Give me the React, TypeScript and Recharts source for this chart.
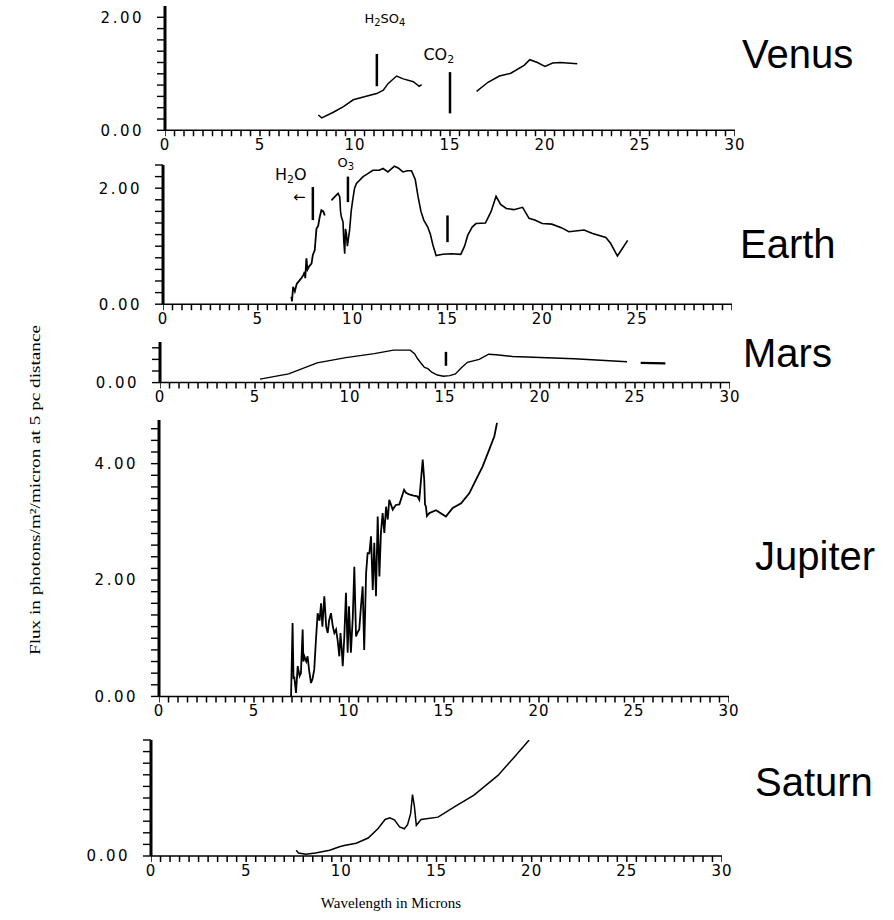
import React from 'react';
import { LineChart, Line, XAxis, YAxis, ReferenceLine, ReferenceDot } from 'recharts';

// ---------- data (wavelength in microns, flux) ----------
const venusX1 = [8.07, 8.25, 8.86, 9.39, 9.91, 10.44, 11.14, 11.49, 11.75, 12.19, 12.54, 13.07, 13.38, 13.51];
const venusY1 = [0.27, 0.22, 0.32, 0.42, 0.54, 0.59, 0.65, 0.71, 0.83, 0.96, 0.91, 0.86, 0.78, 0.81];
const venusX2 = [16.4, 17.0, 17.6, 18.2, 18.9, 19.2, 19.6, 20.0, 20.4, 20.8, 21.7];
const venusY2 = [0.69, 0.85, 0.96, 1.01, 1.15, 1.25, 1.2, 1.13, 1.19, 1.2, 1.18];

const earthX1 = [6.77, 6.8, 6.86, 6.95, 7.05, 7.2, 7.3, 7.4, 7.47, 7.5, 7.56, 7.62, 7.7, 7.83, 7.9, 8.0, 8.09, 8.18, 8.26, 8.35, 8.45, 8.53];
const earthY1 = [0.13, 0.05, 0.3, 0.22, 0.35, 0.41, 0.45, 0.5, 0.56, 0.45, 0.79, 0.6, 0.65, 0.7, 0.85, 0.93, 1.3, 1.35, 1.5, 1.62, 1.6, 1.53];
const earthX2 = [8.88, 9.05, 9.23, 9.32, 9.36, 9.4, 9.49, 9.53, 9.58, 9.62, 9.67, 9.72, 9.75, 9.84, 9.92, 10.0, 10.1, 10.2, 10.55, 10.8, 11.07, 11.4, 11.6, 11.86, 12.2, 12.4, 12.65, 12.9, 13.1, 13.3, 13.45, 13.6, 13.75, 13.96, 14.1, 14.23, 14.4, 14.75, 15.2, 15.7, 15.9, 16.07, 16.3, 16.5, 17.0, 17.3, 17.56, 17.8, 18.1, 18.5, 18.96, 19.3, 19.6, 20.0, 20.5, 21.0, 21.4, 22.2, 22.65, 23.35, 23.6, 23.96, 24.5];
const earthY2 = [1.79, 1.85, 1.91, 1.85, 1.6, 1.51, 1.42, 1.1, 0.87, 1.3, 1.22, 1.0, 1.07, 1.28, 1.6, 1.79, 2.0, 2.08, 2.2, 2.25, 2.31, 2.31, 2.34, 2.28, 2.38, 2.35, 2.28, 2.3, 2.3, 2.15, 1.85, 1.6, 1.45, 1.33, 1.2, 1.02, 0.84, 0.86, 0.87, 0.86, 1.0, 1.19, 1.33, 1.39, 1.4, 1.6, 1.86, 1.72, 1.65, 1.63, 1.67, 1.48, 1.45, 1.39, 1.38, 1.32, 1.25, 1.28, 1.22, 1.15, 1.05, 0.83, 1.1];

const marsX1 = [5.26, 6.77, 8.27, 9.78, 11.28, 12.29, 13.17, 13.4, 13.54, 13.75, 13.92, 14.1, 14.3, 14.6, 14.92, 15.25, 15.55, 15.85, 16.18, 16.8, 17.3, 17.7, 18.56, 21.8, 24.58];
const marsY1 = [0.06, 0.15, 0.34, 0.43, 0.5, 0.56, 0.56, 0.5, 0.42, 0.33, 0.26, 0.24, 0.18, 0.13, 0.11, 0.12, 0.15, 0.25, 0.35, 0.4, 0.49, 0.48, 0.45, 0.41, 0.36];
const marsX2 = [25.3, 26.6];
const marsY2 = [0.34, 0.33];

const jupiterX = [6.95, 7.03, 7.08, 7.12, 7.21, 7.3, 7.4, 7.47, 7.56, 7.6, 7.65, 7.75, 7.82, 7.9, 8.0, 8.08, 8.17, 8.26, 8.35, 8.45, 8.53, 8.6, 8.7, 8.8, 8.88, 8.95, 9.05, 9.15, 9.23, 9.32, 9.4, 9.49, 9.55, 9.62, 9.67, 9.75, 9.84, 9.93, 10.0, 10.1, 10.2, 10.28, 10.37, 10.45, 10.54, 10.63, 10.72, 10.8, 10.9, 10.98, 11.07, 11.16, 11.25, 11.33, 11.42, 11.51, 11.6, 11.68, 11.77, 11.86, 11.95, 12.04, 12.12, 12.3, 12.4, 12.47, 12.65, 12.9, 13.0, 13.17, 13.4, 13.6, 13.7, 13.79, 13.88, 13.96, 14.0, 14.05, 14.1, 14.23, 14.58, 15.1, 15.46, 15.9, 16.33, 16.68, 17.03, 17.38, 17.65, 17.79];
const jupiterY = [0, 1.26, 0.3, 0.34, 0.06, 0.52, 0.35, 0.4, 1.15, 0.6, 0.69, 0.6, 0.69, 0.45, 0.23, 0.3, 0.46, 0.97, 1.43, 1.3, 1.6, 1.2, 1.72, 1.2, 1.09, 1.3, 1.43, 1.2, 1.09, 1.15, 0.97, 0.69, 1.09, 0.8, 0.52, 1.0, 1.78, 0.75, 1.55, 0.75, 1.37, 2.23, 1.03, 1.1, 1.15, 1.55, 1.89, 0.8, 2.12, 2.46, 2.46, 2.75, 1.83, 2.64, 1.72, 3.09, 2.06, 2.81, 3.15, 2.81, 3.26, 3.04, 3.38, 3.21, 3.26, 3.29, 3.3, 3.55, 3.5, 3.47, 3.45, 3.44, 3.38, 3.72, 4.07, 3.72, 3.3, 3.26, 3.1, 3.15, 3.2, 3.09, 3.24, 3.32, 3.49, 3.72, 3.95, 4.24, 4.47, 4.7];

const saturnX = [7.63, 7.75, 8.13, 8.64, 9.39, 9.9, 10.15, 10.78, 11.41, 11.92, 12.3, 12.55, 12.8, 13.06, 13.31, 13.48, 13.64, 13.74, 13.84, 13.94, 14.19, 15.08, 15.96, 16.97, 18.23, 18.99, 19.87];
const saturnY = [0.1, 0.05, 0.03, 0.05, 0.1, 0.16, 0.18, 0.22, 0.31, 0.47, 0.63, 0.66, 0.62, 0.5, 0.47, 0.54, 0.73, 1.06, 0.85, 0.53, 0.63, 0.67, 0.85, 1.05, 1.39, 1.67, 2.0];

const planetNames = ['Venus', 'Earth', 'Mars', 'Jupiter', 'Saturn'];
const xMinorTicks = Array.from({ length: 61 }, (_, i) => i * 0.5);
const xMajorLabels = [0, 5, 10, 15, 20, 25, 30];
const xMajorLabelsEarth = [0, 5, 10, 15, 20, 25];

const yTitle = 'Flux in photons/m\u00B2/micron at 5 pc distance';
const xTitle = 'Wavelength in Microns';

const toRows = (xs: number[], ys: number[]) => xs.map((x, i) => ({ x, y: ys[i] }));

type Marker = { x: number; y1: number; y2: number };
type Note = { x: number; y: number; text: React.ReactNode; size?: number };

const ML = 100;
const MR = 25;
const MT = 22;
const XH = 30;
const TICK_PX = 6;

const TICK_FONT = 'DejaVu Sans, Verdana, sans-serif';

// x-axis line with its minor tick marks, as a path through the chart scales
const combRows = (d: number) => {
  const rows: { x: number; y: number }[] = [];
  xMinorTicks.forEach((v) => {
    rows.push({ x: v, y: 0 });
    rows.push({ x: v, y: -d });
    rows.push({ x: v, y: 0 });
  });
  return rows;
};

function Panel(props: {
  x0: number; x30: number; y0: number; pxu: number; max: number;
  yTicks: number[]; yLabels: number[]; xLabels: number[];
  series: { rows: { x: number; y: number }[]; w: number }[];
  markers: Marker[]; notes: Note[];
}) {
  const { x0, x30, y0, pxu, max, yTicks, yLabels, xLabels, series, markers, notes } = props;
  const d = TICK_PX / pxu; // tick depth in data units
  const plotW = x30 - x0;
  const plotH = max * pxu + TICK_PX + 1;
  const left = x0 - ML;
  const top = y0 - max * pxu - MT;
  const width = ML + plotW + MR;
  const height = MT + plotH + XH;
  const dd = (TICK_PX + 1) / pxu;
  return (
    <div style={{ position: 'absolute', left, top }}>
      <LineChart width={width} height={height} margin={{ top: MT, right: MR, bottom: 0, left: 0 }} style={{ overflow: 'visible' }}>
        <XAxis
          type="number"
          dataKey="x"
          domain={[0, 30]}
          ticks={xLabels}
          interval={0}
          height={XH}
          tickSize={0}
          tickMargin={2}
          allowDataOverflow
          axisLine={false}
          tickLine={false}
          tick={{ fill: '#000', fontSize: 15, fontFamily: TICK_FONT, letterSpacing: 1 }}
        />
        <YAxis
          type="number"
          domain={[-dd, max]}
          ticks={yTicks}
          interval={0}
          width={ML}
          tickSize={8}
          tickMargin={13}
          allowDataOverflow
          axisLine={false}
          tickLine={{ stroke: '#000', strokeWidth: 1.4 }}
          tickFormatter={(v: number) => (yLabels.some((l) => Math.abs(l - v) < 1e-6) ? v.toFixed(2) : '')}
          tick={{ fill: '#000', fontSize: 15, fontFamily: TICK_FONT, letterSpacing: 2.5 }}
        />
        <Line
          data={combRows(d)}
          dataKey="y"
          type="linear"
          stroke="#000"
          strokeWidth={1.5}
          dot={false}
          activeDot={false}
          isAnimationActive={false}
        />
        <ReferenceLine segment={[{ x: 0, y: 0 }, { x: 0, y: max }]} stroke="#000" strokeWidth={3} ifOverflow="visible" />
        {series.map((s, i) => (
          <Line
            key={i}
            data={s.rows}
            dataKey="y"
            type="linear"
            stroke="#000"
            strokeWidth={s.w}
            dot={false}
            activeDot={false}
            isAnimationActive={false}
          />
        ))}
        {markers.map((m, i) => (
          <ReferenceLine
            key={'m' + i}
            segment={[{ x: m.x, y: m.y1 }, { x: m.x, y: m.y2 }]}
            stroke="#000"
            strokeWidth={2.5}
            ifOverflow="visible"
          />
        ))}
        {notes.map((n, i) => (
          <ReferenceDot
            key={'n' + i}
            x={n.x}
            y={n.y}
            r={0}
            ifOverflow="visible"
            shape={(p: any) => (
              <text x={p.cx} y={p.cy} fontFamily="DejaVu Sans, sans-serif" fontSize={n.size || 13} fill="#000" stroke="none">
                {n.text}
              </text>
            )}
          />
        ))}
      </LineChart>
    </div>
  );
}

const range = (n: number, step: number) => Array.from({ length: n }, (_, i) => Math.round(i * step * 100) / 100);

export default function App() {
  return (
    <div style={{ position: 'absolute', left: 0, top: 0, width: 894, height: 920, background: '#fff', overflow: 'hidden' }}>
      <Panel
        x0={165} x30={735} y0={130} pxu={56.5} max={2.2}
        yTicks={range(11, 0.2)} yLabels={[0, 2]} xLabels={xMajorLabels}
        series={[{ rows: toRows(venusX1, venusY1), w: 1.5 }, { rows: toRows(venusX2, venusY2), w: 1.5 }]}
        markers={[{ x: 11.15, y1: 0.78, y2: 1.35 }, { x: 15.0, y1: 0.3, y2: 1.03 }]}
        notes={[
          { x: 10.5, y: 1.9, text: <>H<tspan fontSize={10} dy={3}>2</tspan><tspan dy={-3}>SO</tspan><tspan fontSize={10} dy={3}>4</tspan></>, size: 13 },
          { x: 13.6, y: 1.24, text: <>CO<tspan fontSize={11} dy={3}>2</tspan></>, size: 16 },
        ]}
      />
      <Panel
        x0={163} x30={732} y0={304} pxu={58} max={2.4}
        yTicks={range(13, 0.2)} yLabels={[0, 2]} xLabels={xMajorLabelsEarth}
        series={[{ rows: toRows(earthX1, earthY1), w: 1.8 }, { rows: toRows(earthX2, earthY2), w: 1.6 }]}
        markers={[{ x: 7.9, y1: 1.45, y2: 2.02 }, { x: 9.75, y1: 1.76, y2: 2.2 }, { x: 15.0, y1: 1.07, y2: 1.53 }]}
        notes={[
          { x: 5.9, y: 2.14, text: <>H<tspan fontSize={11} dy={3}>2</tspan><tspan dy={-3}>O</tspan></>, size: 16 },
          { x: 9.2, y: 2.36, text: <>O<tspan fontSize={10} dy={3}>3</tspan></>, size: 13 },
          { x: 6.85, y: 1.76, text: '\u2190', size: 15 },
        ]}
      />
      <Panel
        x0={160} x30={730} y0={382.7} pxu={58} max={0.7}
        yTicks={range(4, 0.2)} yLabels={[0]} xLabels={xMajorLabels}
        series={[{ rows: toRows(marsX1, marsY1), w: 1.4 }, { rows: toRows(marsX2, marsY2), w: 2.2 }]}
        markers={[{ x: 15.05, y1: 0.29, y2: 0.53 }]}
        notes={[]}
      />
      <Panel
        x0={159} x30={729} y0={696.7} pxu={58.2} max={4.75}
        yTicks={range(24, 0.2)} yLabels={[0, 2, 4]} xLabels={xMajorLabels}
        series={[{ rows: toRows(jupiterX, jupiterY), w: 1.8 }]}
        markers={[]}
        notes={[]}
      />
      <Panel
        x0={151} x30={722} y0={856} pxu={58} max={2.0}
        yTicks={range(11, 0.2)} yLabels={[0]} xLabels={xMajorLabels}
        series={[{ rows: toRows(saturnX, saturnY), w: 1.5 }]}
        markers={[]}
        notes={[]}
      />
      <svg width={894} height={920} style={{ position: 'absolute', left: 0, top: 0, pointerEvents: 'none' }}>
        <g fontFamily="Liberation Sans, Arial, sans-serif" fontSize={40} fill="#000">
          <text x={742} y={68}>{planetNames[0]}</text>
          <text x={740} y={258}>{planetNames[1]}</text>
          <text x={743} y={367}>{planetNames[2]}</text>
          <text x={755} y={570}>{planetNames[3]}</text>
          <text x={755} y={796}>{planetNames[4]}</text>
        </g>
        <text
          x={0}
          y={0}
          transform="translate(40,490) rotate(-90)"
          textAnchor="middle"
          fontFamily="Liberation Serif, serif"
          fontSize={14}
          textLength={330}
          lengthAdjust="spacingAndGlyphs"
          fill="#000"
        >
          {yTitle}
        </text>
        <text x={391} y={908} textAnchor="middle" fontFamily="Liberation Serif, serif" fontSize={15} fill="#000">
          {xTitle}
        </text>
      </svg>
    </div>
  );
}
